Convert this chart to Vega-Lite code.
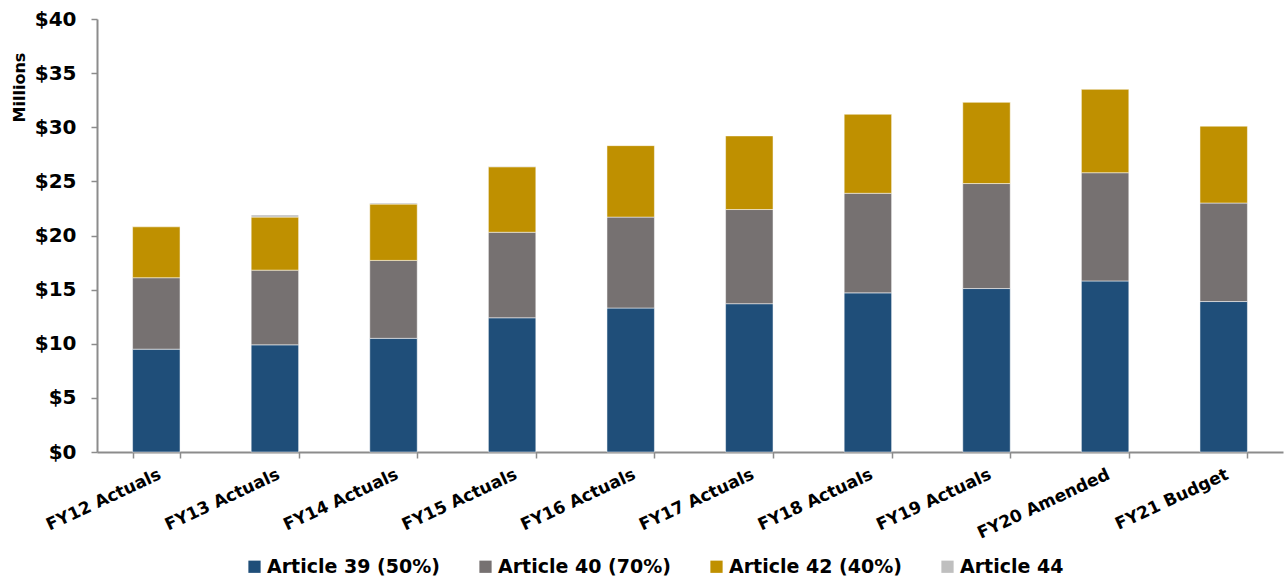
{
  "$schema": "https://vega.github.io/schema/vega-lite/v6.json",
  "width": 1186,
  "height": 433,
  "autosize": {"type": "none"},
  "padding": {"left": 97, "top": 19, "right": 5, "bottom": 130},
  "background": "#ffffff",
  "config": {
    "view": {"stroke": null},
    "font": "DejaVu Sans"
  },
  "data": {
    "values": [
      {"year": "FY12 Actuals", "series": "Article 39 (50%)", "value": 9.5},
      {"year": "FY12 Actuals", "series": "Article 40 (70%)", "value": 6.6},
      {"year": "FY12 Actuals", "series": "Article 42 (40%)", "value": 4.7},
      {"year": "FY13 Actuals", "series": "Article 39 (50%)", "value": 9.9},
      {"year": "FY13 Actuals", "series": "Article 40 (70%)", "value": 6.9},
      {"year": "FY13 Actuals", "series": "Article 42 (40%)", "value": 4.9},
      {"year": "FY13 Actuals", "series": "Article 44", "value": 0.2},
      {"year": "FY14 Actuals", "series": "Article 39 (50%)", "value": 10.5},
      {"year": "FY14 Actuals", "series": "Article 40 (70%)", "value": 7.2},
      {"year": "FY14 Actuals", "series": "Article 42 (40%)", "value": 5.2},
      {"year": "FY14 Actuals", "series": "Article 44", "value": 0.1},
      {"year": "FY15 Actuals", "series": "Article 39 (50%)", "value": 12.4},
      {"year": "FY15 Actuals", "series": "Article 40 (70%)", "value": 7.9},
      {"year": "FY15 Actuals", "series": "Article 42 (40%)", "value": 6.05},
      {"year": "FY15 Actuals", "series": "Article 44", "value": 0.05},
      {"year": "FY16 Actuals", "series": "Article 39 (50%)", "value": 13.3},
      {"year": "FY16 Actuals", "series": "Article 40 (70%)", "value": 8.4},
      {"year": "FY16 Actuals", "series": "Article 42 (40%)", "value": 6.6},
      {"year": "FY17 Actuals", "series": "Article 39 (50%)", "value": 13.7},
      {"year": "FY17 Actuals", "series": "Article 40 (70%)", "value": 8.7},
      {"year": "FY17 Actuals", "series": "Article 42 (40%)", "value": 6.8},
      {"year": "FY18 Actuals", "series": "Article 39 (50%)", "value": 14.7},
      {"year": "FY18 Actuals", "series": "Article 40 (70%)", "value": 9.2},
      {"year": "FY18 Actuals", "series": "Article 42 (40%)", "value": 7.3},
      {"year": "FY19 Actuals", "series": "Article 39 (50%)", "value": 15.1},
      {"year": "FY19 Actuals", "series": "Article 40 (70%)", "value": 9.7},
      {"year": "FY19 Actuals", "series": "Article 42 (40%)", "value": 7.5},
      {"year": "FY20 Amended", "series": "Article 39 (50%)", "value": 15.8},
      {"year": "FY20 Amended", "series": "Article 40 (70%)", "value": 10.0},
      {"year": "FY20 Amended", "series": "Article 42 (40%)", "value": 7.7},
      {"year": "FY21 Budget", "series": "Article 39 (50%)", "value": 13.9},
      {"year": "FY21 Budget", "series": "Article 40 (70%)", "value": 9.1},
      {"year": "FY21 Budget", "series": "Article 42 (40%)", "value": 7.1}
    ]
  },
  "mark": {"type": "bar", "stroke": "#ffffff", "strokeWidth": 0.5},
  "encoding": {
    "x": {
      "field": "year",
      "type": "nominal",
      "sort": null,
      "scale": {"paddingInner": 0.6, "paddingOuter": 0.3},
      "axis": {
        "title": null,
        "tickBand": "extent",
        "labelAngle": -25,
        "labelAlign": "right",
        "labelBaseline": "top",
        "labelFontSize": 17,
        "labelFontWeight": "bold",
        "labelColor": "#000000",
        "labelPadding": 8,
        "labelLimit": 300,
        "domainColor": "#8c8c8c",
        "domainWidth": 2,
        "tickColor": "#8c8c8c",
        "tickWidth": 1.5,
        "tickSize": 6
      }
    },
    "y": {
      "field": "value",
      "type": "quantitative",
      "aggregate": "sum",
      "stack": "zero",
      "scale": {"domain": [0, 40], "nice": false},
      "axis": {
        "title": "Millions",
        "titleAngle": -90,
        "titleX": -78,
        "titleY": 68,
        "titleAlign": "center",
        "titleBaseline": "middle",
        "titleFontSize": 16,
        "titleFontWeight": "bold",
        "titleColor": "#000000",
        "values": [0, 5, 10, 15, 20, 25, 30, 35, 40],
        "format": "$,.0f",
        "labelFontSize": 20,
        "labelFontWeight": "bold",
        "labelColor": "#000000",
        "labelPadding": 15,
        "grid": false,
        "domainColor": "#8c8c8c",
        "domainWidth": 2,
        "tickColor": "#8c8c8c",
        "tickWidth": 1.5,
        "tickSize": 6
      }
    },
    "color": {
      "field": "series",
      "type": "nominal",
      "scale": {
        "domain": ["Article 39 (50%)", "Article 40 (70%)", "Article 42 (40%)", "Article 44"],
        "range": ["#1f4e79", "#767171", "#bf9000", "#bfbfbf"]
      },
      "legend": {
        "title": null,
        "orient": "none",
        "legendX": 148,
        "legendY": 538,
        "direction": "horizontal",
        "symbolType": "square",
        "symbolSize": 150,
        "symbolStrokeWidth": 0,
        "labelFontSize": 19,
        "labelFontWeight": "bold",
        "labelColor": "#000000",
        "labelOffset": 3,
        "labelLimit": 400,
        "columnPadding": 36
      }
    },
    "order": {"field": "series", "sort": "ascending"}
  }
}
